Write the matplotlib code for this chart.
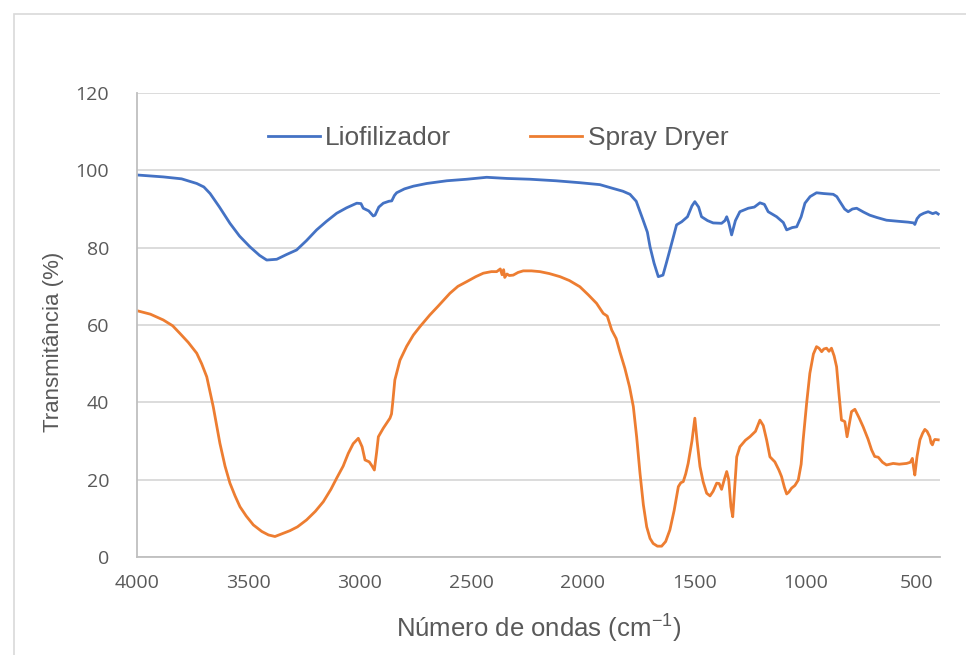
import matplotlib
matplotlib.use("Agg")
import matplotlib.pyplot as plt
from matplotlib.patches import Rectangle

# ---- data ----
wn_lio = [4000, 3882, 3800, 3732, 3700, 3672, 3630, 3583, 3540, 3493, 3450, 3418, 3373, 3330, 3284,
          3240, 3194, 3150, 3104, 3060, 3014, 2995, 2985, 2960, 2940, 2932, 2915, 2895, 2870,
          2857, 2845, 2835, 2800, 2760, 2700, 2610, 2520, 2431, 2340, 2237, 2120, 2013, 1923,
          1863, 1820, 1788, 1760, 1729, 1710, 1698, 1680, 1661, 1640, 1625, 1609, 1590, 1579,
          1556, 1530, 1510, 1497, 1480, 1467, 1440, 1415, 1377, 1362, 1354, 1345, 1332, 1315,
          1295, 1257, 1230, 1205, 1185, 1168, 1130, 1100, 1085, 1060, 1040, 1020, 1003, 980,
          951, 920, 876, 860, 846, 825, 809, 790, 771, 740, 712, 680, 637, 580, 540, 515,
          510, 500, 487, 470, 450, 430, 415, 405]
t_lio = [98.8, 98.3, 97.8, 96.6, 95.7, 94.0, 90.5, 86.3, 83.0, 80.2, 78.0, 76.8, 77.0, 78.2, 79.4,
         81.8, 84.6, 86.8, 88.9, 90.3, 91.5, 91.4, 90.2, 89.5, 88.2, 88.4, 90.5, 91.5, 92.0,
         92.1, 93.5, 94.2, 95.2, 95.9, 96.6, 97.3, 97.7, 98.2, 97.9, 97.7, 97.3, 96.8, 96.3,
         95.3, 94.6, 93.8, 92.0, 87.1, 84.0, 80.2, 76.0, 72.5, 72.9, 76.0, 79.4, 83.5, 85.9,
         86.7, 88.0, 90.8, 91.9, 90.5, 88.0, 87.0, 86.4, 86.3, 87.0, 88.0, 86.5, 83.3, 87.0,
         89.3, 90.2, 90.5, 91.6, 91.2, 89.3, 88.0, 86.5, 84.6, 85.2, 85.4, 88.0, 91.5, 93.2,
         94.2, 94.0, 93.8, 93.2, 91.9, 90.0, 89.3, 90.0, 90.2, 89.2, 88.4, 87.8, 87.1, 86.8, 86.6, 86.4,
         86.0, 87.5, 88.4, 88.9, 89.3, 88.8, 89.1, 88.7]

wn_spray = [4000, 3940, 3882, 3840, 3807, 3770, 3732, 3710, 3687, 3658, 3628, 3605, 3583, 3560,
            3538, 3510, 3478, 3440, 3410, 3381, 3350, 3314, 3280, 3239, 3200, 3164, 3130, 3104,
            3075, 3052, 3030, 3007, 2990, 2977, 2958, 2945, 2935, 2925, 2917, 2895, 2875, 2865,
            2858, 2853, 2843, 2820, 2790, 2760, 2730, 2686, 2650, 2596, 2560, 2521, 2480, 2446,
            2410, 2386, 2370, 2362, 2355, 2350, 2340, 2330, 2312, 2290, 2267, 2230, 2192, 2150,
            2102, 2060, 2013, 1975, 1938, 1908, 1890, 1870, 1850, 1833, 1811, 1790, 1773, 1758,
            1743, 1728, 1713, 1698, 1684, 1665, 1646, 1628, 1609, 1590, 1571, 1560, 1549, 1538,
            1527, 1510, 1497, 1487, 1474, 1460, 1444, 1429, 1415, 1399, 1388, 1377, 1365, 1354,
            1345, 1335, 1327, 1318, 1309, 1295, 1270, 1250, 1225, 1205, 1190, 1175, 1160, 1138,
            1120, 1108, 1095, 1085, 1075, 1063, 1048, 1033, 1020, 1011, 995, 981, 965, 951,
            940, 928, 918, 906, 895, 884, 872, 861, 850, 839, 830, 824, 814, 805, 794, 779,
            760, 742, 720, 704, 690, 674, 655, 637, 607, 580, 547, 530, 521, 515, 510, 500,
            487, 475, 465, 455, 443, 437, 431, 425, 420, 405]
t_spray = [63.7, 62.8, 61.3, 59.8, 57.8, 55.5, 52.7, 50.0, 46.6, 38.9, 29.4, 23.5, 19.1, 15.8,
           13.0, 10.6, 8.3, 6.6, 5.7, 5.3, 6.0, 6.8, 7.8, 9.6, 11.8, 14.3, 17.5, 20.4,
           23.5, 26.8, 29.3, 30.7, 28.5, 25.1, 24.6, 23.5, 22.5, 27.0, 31.1, 33.3, 35.0, 35.9,
           37.0, 39.7, 45.8, 50.9, 54.5, 57.4, 59.6, 62.6, 64.8, 68.2, 70.0, 71.2, 72.5, 73.4,
           73.8, 73.8, 74.5, 73.0, 74.3, 72.3, 73.2, 72.8, 72.9, 73.6, 74.0, 74.0, 73.8, 73.3,
           72.5, 71.5, 69.9, 67.8, 65.6, 63.0, 62.3, 58.7, 56.5, 53.0, 48.8, 44.0, 38.9, 31.0,
           21.6, 13.5, 7.8, 4.8, 3.5, 2.8, 2.8, 4.0, 7.0, 12.0, 18.2, 19.2, 19.5, 21.5,
           24.2, 30.0, 35.9, 30.0, 23.4, 19.5, 16.5, 15.8, 17.0, 19.1, 19.0, 17.5, 20.0, 22.1,
           20.0, 13.0, 10.4, 18.0, 25.9, 28.5, 30.2, 31.1, 32.5, 35.4, 34.0, 30.3, 25.9, 24.6,
           22.5, 20.8, 18.0, 16.3, 16.8, 17.8, 18.5, 19.9, 24.0, 30.3, 40.0, 47.5, 52.5, 54.4,
           54.0, 53.1, 53.8, 54.0, 53.2, 54.0, 52.0, 49.2, 42.0, 35.4, 35.2, 35.0, 31.1, 34.0, 37.6, 38.2,
           36.0, 33.7, 30.5, 27.7, 26.0, 25.8, 24.5, 23.8, 24.2, 24.0, 24.2, 24.5, 25.5, 23.0, 21.2, 26.0,
           30.3, 32.0, 33.0, 32.5, 31.1, 29.5, 29.0, 30.0, 30.4, 30.3]

series_names = ["Liofilizador", "Spray Dryer"]
x_ticks = [4000, 3500, 3000, 2500, 2000, 1500, 1000, 500]
y_ticks = [0, 20, 40, 60, 80, 100, 120]
x_title = "Número de ondas (cm$^{\\mathregular{-1}}$)"
y_title = "Transmitância (%)"

# ---- style ----
BLUE = "#4472C4"
ORANGE = "#ED7D31"
TXT = "#595959"
GRID = "#D9D9D9"
plt.rcParams["mathtext.fontset"] = "custom"
plt.rcParams["mathtext.rm"] = "Liberation Sans"

fig = plt.figure(figsize=(9.66, 6.55), dpi=100)
fig.patch.set_facecolor("white")
# outer chart-area border (Excel style)
fig.patches.append(Rectangle((14 / 966, -0.05), 1.2, (655 - 14) / 655 + 0.05,
                             transform=fig.transFigure, fill=False,
                             edgecolor="#D9D9D9", linewidth=1.2))

ax = fig.add_axes([137 / 966, (655 - 557) / 655, (940 - 137) / 966, (557 - 93) / 655])
ax.plot(wn_lio, t_lio, color=BLUE, lw=2.0, label=series_names[0])
ax.plot(wn_spray, t_spray, color=ORANGE, lw=2.0, label=series_names[1])

ax.set_xlim(4000, 397)
ax.set_ylim(0, 120)
ax.set_xticks(x_ticks)
ax.set_yticks(y_ticks)
ax.grid(axis="y", color=GRID, lw=1.3)
ax.set_axisbelow(True)
for s in ["top", "right"]:
    ax.spines[s].set_visible(False)
for s in ["left", "bottom"]:
    ax.spines[s].set_color("#BFBFBF")
    ax.spines[s].set_linewidth(1.3)
ax.tick_params(length=0, labelsize=14, labelcolor=TXT)
ax.tick_params(axis="y", pad=20)
ax.tick_params(axis="x", pad=12)
for lab in ax.get_xticklabels() + ax.get_yticklabels():
    lab.set_family("Open Sans")

ax.set_xlabel(x_title, fontsize=18.5, color=TXT, family="Liberation Sans")
ax.set_ylabel(y_title, fontsize=16, color=TXT, family="Liberation Sans")
ax.xaxis.set_label_coords(0.5, -(628 - 557) / 464, transform=ax.transAxes)
ax.xaxis.label.set_va("center")
ax.yaxis.set_label_coords(-(137 - 54) / 803, (557 - 342) / 464)
ax.yaxis.label.set_va("center")

leg = ax.legend(loc="center", bbox_to_anchor=((498 - 137) / 803, (557 - 138) / 464), ncol=2,
                frameon=False, handlelength=1.97, columnspacing=3.0,
                handletextpad=0.2, prop={"family": "Liberation Sans", "size": 19})
for t in leg.get_texts():
    t.set_color(TXT)

fig.savefig("out.png", dpi=100, facecolor="white")
